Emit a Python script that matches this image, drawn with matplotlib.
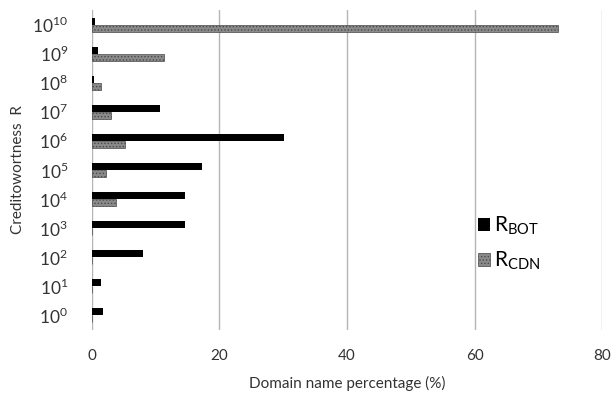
import matplotlib
matplotlib.use("Agg")
import matplotlib.pyplot as plt
import numpy as np

plt.rcParams['font.family'] = ['Lato', 'DejaVu Sans']
plt.rcParams['mathtext.fontset'] = 'custom'
plt.rcParams['mathtext.rm'] = 'Lato'
plt.rcParams['hatch.linewidth'] = 0.6

# creditworthiness levels R = 10^0 .. 10^10
exponentes = ["0", "1", "2", "3", "4", "5", "6", "7", "8", "9", "10"]

# porcentaje de dominios (%)
r_bot = [1.7, 1.4, 8.0, 14.6, 14.6, 17.2, 30.1, 10.7, 0.4, 0.9, 0.5]
r_cdn = [0.0, 0.0, 0.0, 0.1, 3.8, 2.3, 5.2, 3.0, 1.4, 11.3, 73.0]

fig = plt.figure(figsize=(6.12, 4.0), dpi=100)
ax = fig.add_axes([0.150, 0.175, 0.834, 0.800])

y = np.arange(len(exponentes))
alto = 0.24

ax.barh(y + 0.12, r_bot, alto, color='black', label=r'R$_{\mathrm{BOT}}$', zorder=3)
ax.barh(y - 0.12, r_cdn, alto, color='#8a8a8a', edgecolor='#4a4a4a', linewidth=0.5,
        hatch='.....', label=r'R$_{\mathrm{CDN}}$', zorder=3)

ax.set_xlim(0, 80)
ax.set_ylim(-0.5, len(exponentes) - 0.5)
ax.set_xticks([0, 20, 40, 60, 80])
ax.set_yticks(y)
ax.set_yticklabels([r'$10^{%s}$' % e for e in exponentes], fontsize=12.5, color='#333333')

ax.grid(axis='x', color='#b5b5b5', linewidth=1.0, zorder=0)
ax.grid(axis='y', visible=False)
for s in ax.spines.values():
    s.set_visible(False)
ax.tick_params(axis='both', length=0)
ax.tick_params(axis='x', labelsize=11, colors='#333333', pad=14)
ax.tick_params(axis='y', pad=17)

ax.set_xlabel("Domain name percentage (%)", fontsize=11, color='#333333', labelpad=9)
ax.set_ylabel("Creditowortness  R", fontsize=11, color='#333333')
ax.yaxis.set_label_coords(-0.13, 0.5)

ax.legend(loc='center left', bbox_to_anchor=(0.72, 0.27), frameon=False,
          fontsize=15, handlelength=0.55, handleheight=0.55, handletextpad=0.2,
          labelspacing=0.6)

plt.savefig("out.png", dpi=100)
plt.close()
